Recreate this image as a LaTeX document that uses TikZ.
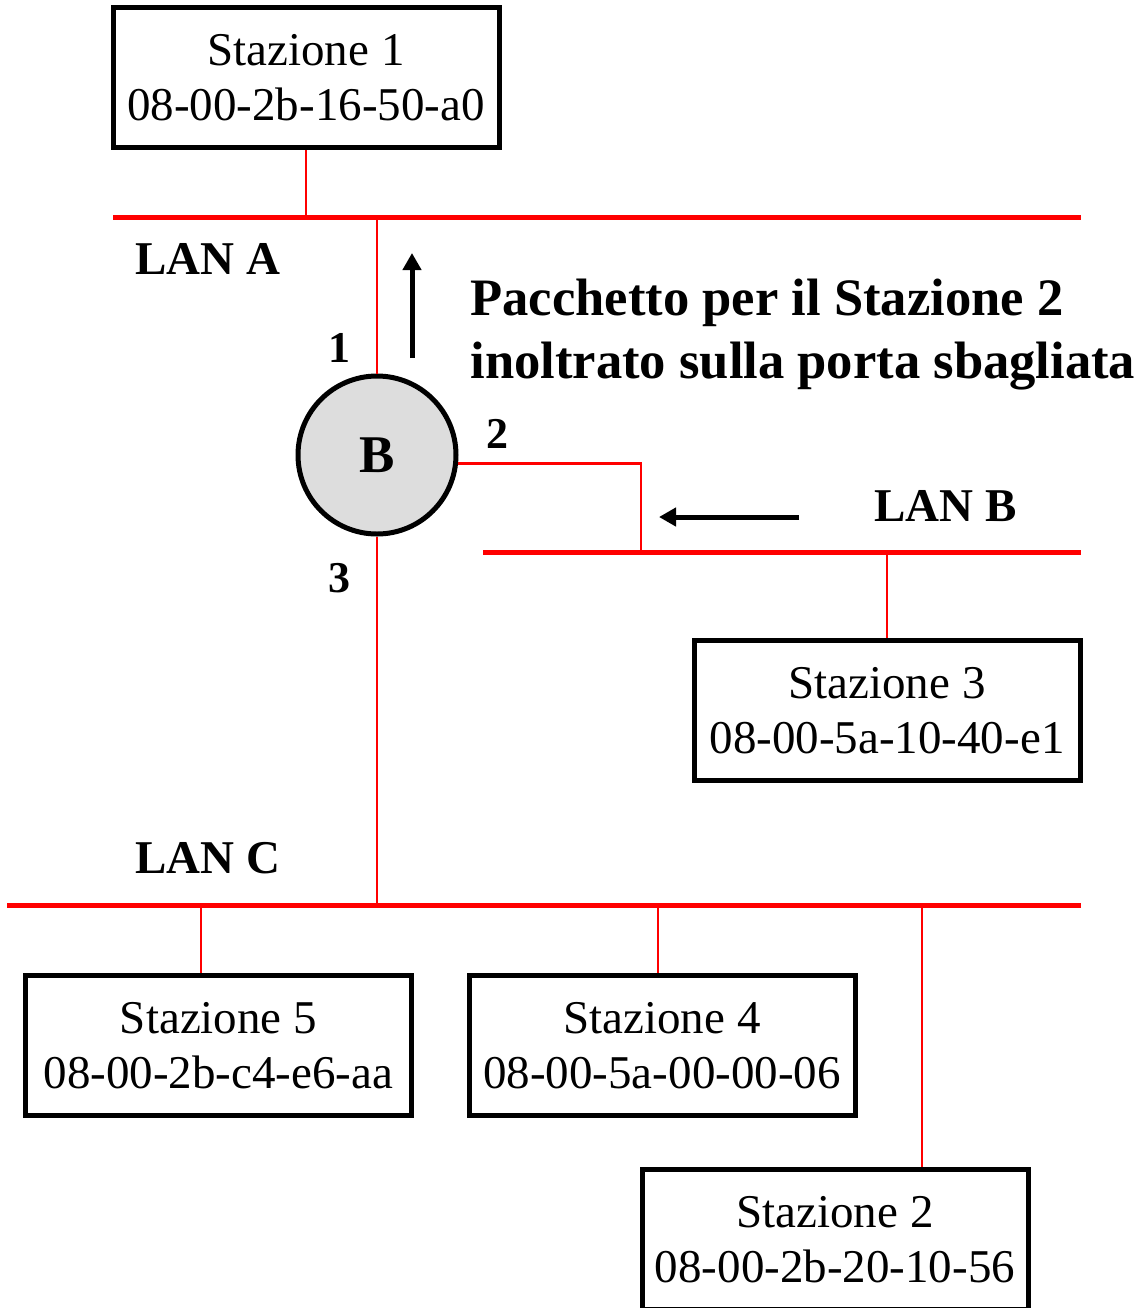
\documentclass[tikz,border=0pt]{standalone}
\usepackage{fontspec}
\setmainfont{Liberation Serif}
\usetikzlibrary{arrows.meta}
\definecolor{grigio}{RGB}{221,221,221}

\begin{document}
\begin{tikzpicture}[x=0.5pt,y=-0.5pt,
  stazione/.style={draw,line width=2.5pt,minimum width=193pt,minimum height=70pt,inner sep=0pt,align=center,font=\fontsize{23.5}{27.5}\selectfont},
  lan/.style={red,line width=2.5pt},
  tap/.style={red,line width=1.4pt},
  etich/.style={font=\fontsize{23.5}{28}\selectfont\bfseries,anchor=base west,inner sep=0pt},
  porta/.style={font=\fontsize{22}{26}\selectfont\bfseries,anchor=base,inner sep=0pt},
  freccia/.style={line width=2.5pt,-{Triangle[length=8.5pt,width=9pt]}}]
\useasboundingbox (0,0) rectangle (1141,1308);

\coordinate (lanA1) at (113,217);
\coordinate (lanA2) at (1081,217);
\coordinate (lanB1) at (483,552);
\coordinate (lanB2) at (1081,552);
\coordinate (lanC1) at (7,905);
\coordinate (lanC2) at (1081,905);
\foreach \l in {A,B,C}
\draw [lan] (lan\l1) -- (lan\l2);

\node[etich] (labA) at (135,274) {LAN A};
\node[etich] (labB) at (874,521) {LAN B};
\node[etich] (labC) at (135,873) {LAN C};

\node[circle,draw,line width=2.5pt,fill=grigio,minimum size=79pt,inner sep=0pt,font=\fontsize{26.5}{30}\selectfont\bfseries] (B) at (377,455) {B};
\node[porta] (n1) at (339,362) {1};
\node[porta] (n2) at (497,448) {2};
\node[porta] (n3) at (339,592) {3};

\node[stazione] (s1) at (306,77.5) {Stazione 1\\08-00-2b-16-50-a0};
\node[stazione] (s3) at (887,710.5) {Stazione 3\\08-00-5a-10-40-e1};
\node[stazione] (s5) at (218.5,1045.5) {Stazione 5\\08-00-2b-c4-e6-aa};
\node[stazione] (s4) at (662,1045.5) {Stazione 4\\08-00-5a-00-00-06};
\node[stazione] (s2) at (835,1239.5) {Stazione 2\\08-00-2b-20-10-56};

\coordinate (t1) at (306,217);
\coordinate (t3) at (887,552);
\coordinate (t5) at (201,905);
\coordinate (t4) at (658,905);
\coordinate (t2) at (922,905);
\coordinate (p2) at (641,552);
\draw [tap] (s1.south) -- (t1);
\draw [tap] (s3.north) -- (t3);
\foreach \s in {5,4,2}
\draw [tap] (s\s.north -| t\s) -- (t\s);

\draw [tap] (B.north) -- (B |- lanA1);
\draw [tap] (B.south) -- (B |- lanC1);
\draw [tap] (B.-6.5) -| (p2);

\coordinate (su0) at (412,358);
\coordinate (su1) at (412,253);
\coordinate (sx0) at (799,517);
\coordinate (sx1) at (659,517);
\draw [freccia] (su0) -- (su1);
\draw [freccia] (sx0) -- (sx1);

\node[anchor=north west,inner sep=0pt,align=left,font=\fontsize{26.3}{31.5}\selectfont\bfseries] (msg) at (470,279) {Pacchetto per il Stazione 2\\inoltrato sulla porta sbagliata};
\end{tikzpicture}
\end{document}
